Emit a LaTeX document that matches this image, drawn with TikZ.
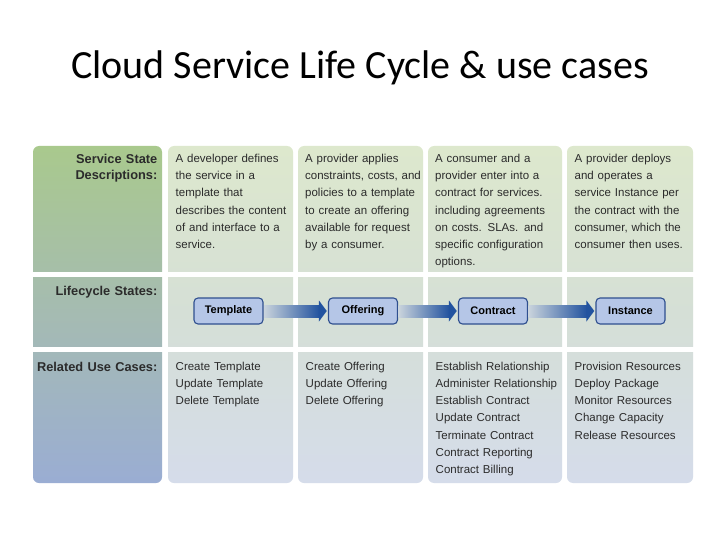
\documentclass[tikz,border=0pt]{standalone}
\usepackage{fontspec}
\setmainfont{Liberation Sans}
\newfontfamily\titlefont{Carlito}
\usetikzlibrary{calc}
\definecolor{labtop}{HTML}{A9C98D}
\definecolor{labmid}{HTML}{A5BBB2}
\definecolor{labbot}{HTML}{9AADD3}
\definecolor{celltop}{HTML}{DDE8CD}
\definecolor{cellmid}{HTML}{D5DFD6}
\definecolor{cellbot}{HTML}{D5DCEA}
\definecolor{txt}{HTML}{2B2B2B}
\definecolor{boxfill}{HTML}{B5C6E7}
\definecolor{boxline}{HTML}{2F4F8F}
\definecolor{arrowdark}{HTML}{22539F}
\definecolor{arrowlight}{HTML}{C9D3DC}
\begin{document}
\begin{tikzpicture}[x=1pt,y=-1pt,
  labcol/.style={rounded corners=6pt, top color=labtop, bottom color=labbot, middle color=labmid},
  cellcol/.style={rounded corners=6pt, top color=celltop, bottom color=cellbot, middle color=cellmid},
  body/.style={inner sep=0pt, anchor=base west, text width=135pt, align=left, text=txt,
    font=\fontsize{11.5}{17.25}\selectfont},
  lab/.style={inner sep=0pt, anchor=base east, text width=125pt, align=right, text=txt,
    font=\bfseries\fontsize{12.8}{16.5}\selectfont},
  state/.style={draw=boxline, line width=1.1pt, fill=boxfill, rounded corners=4pt,
    minimum width=69pt, minimum height=26pt, inner sep=0pt, text=black,
    font=\bfseries\fontsize{11}{13}\selectfont},
  shaft/.style={left color=arrowlight, right color=arrowdark},
  head/.style={fill=arrowdark}
]
\useasboundingbox (0,0) rectangle (720,540);
\fill[white] (0,0) rectangle (720,540);

\node[anchor=base, inner sep=0pt, font=\titlefont\fontsize{40}{44}\selectfont] (title) at (360,79) {Cloud Service Life Cycle \& use cases};

% columns
\path[labcol] (33,146) rectangle (162,483);
\path[cellcol] (168,146) rectangle (293,483);
\path[cellcol] (298,146) rectangle (423,483);
\path[cellcol] (428,146) rectangle (562,483);
\path[cellcol] (567,146) rectangle (693,483);
% row gaps
\fill[white] (30,272) rectangle (700,277);
\fill[white] (30,347) rectangle (700,352);

% row 1
\node[lab] (l1) at (157.5,163.3) {Service State\\Descriptions:};
\node[body] (d1) at (175.5,162.5) {A developer defines\\the service in a\\template that\\describes the content\\of and interface to a\\service.};
\node[body] (d2) at (305,162.5) {A provider applies\\constraints, costs, and\\policies to a template\\to create an offering\\available for request\\by a consumer.};
\node[body] (d3) at (435,162.5) {A consumer and a\\provider enter into a\\contract for services.\\including agreements\\on costs. SLAs. and\\specific configuration\\options.};
\node[body] (d4) at (574.5,162.5) {A provider deploys\\and operates a\\service Instance per\\the contract with the\\consumer, which the\\consumer then uses.};

% row 2
\node[lab] (l2) at (157.5,295.3) {Lifecycle States:};
\node[state] (s1) at (228.5,311) {Template};
\node[state] (s2) at (363,311) {Offering};
\node[state] (s3) at (493,311) {Contract};
\node[state] (s4) at (630.5,311) {Instance};
\foreach \a/\b in {s1/s2,s2/s3,s3/s4}{
  \shade[shaft] ($(\a.east)+(0.6,-6)$) rectangle ($(\b.west)+(-8.5,6)$);
  \fill[head] ($(\b.west)+(-9,-10.5)$) -- ($(\b.west)+(-1.2,0)$) -- ($(\b.west)+(-9,10.5)$) -- cycle;
}

% row 3
\node[lab] (l3) at (157.5,371) {Related Use Cases:};
\node[body] (u1) at (175.5,370) {Create Template\\Update Template\\Delete Template};
\node[body] (u2) at (305.5,370) {Create Offering\\Update Offering\\Delete Offering};
\node[body] (u3) at (435.5,370) {Establish Relationship\\Administer Relationship\\Establish Contract\\Update Contract\\Terminate Contract\\Contract Reporting\\Contract Billing};
\node[body] (u4) at (574.5,370) {Provision Resources\\Deploy Package\\Monitor Resources\\Change Capacity\\Release Resources};
\end{tikzpicture}
\end{document}
